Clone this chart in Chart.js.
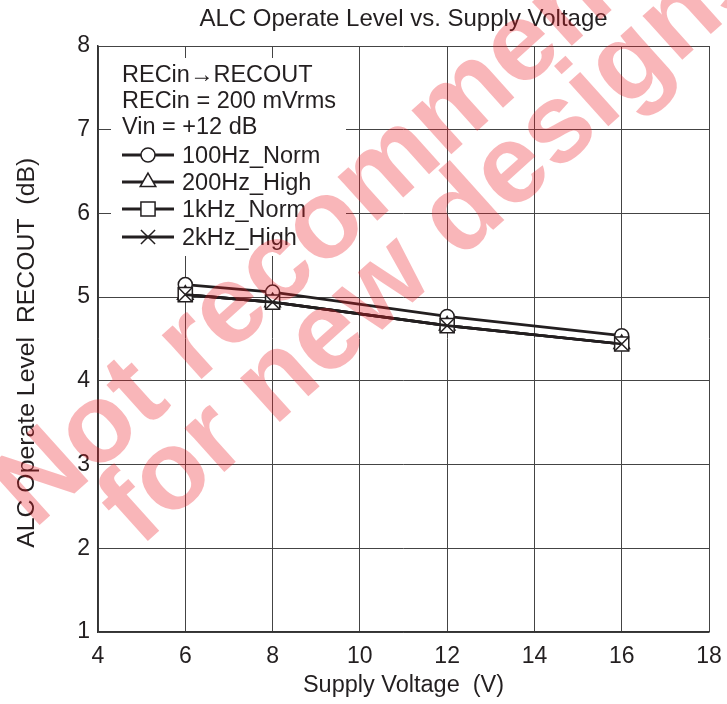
<!DOCTYPE html>
<html>
<head>
<meta charset="utf-8">
<script src="https://cdn.jsdelivr.net/npm/chart.js@4.4.1/dist/chart.umd.min.js"></script>
<style>
  body { margin: 0; background: #fff; }
  #wrap { width: 727px; height: 704px; }
</style>
</head>
<body>
<div id="wrap"><canvas id="chart" width="727" height="704"></canvas></div>
<script>
// --- data ---
const supplyVoltage = [6, 8, 12, 16];
const norm100Hz = [5.15, 5.06, 4.77, 4.54];
const high200Hz = [5.03, 4.94, 4.66, 4.44];
const norm1kHz = [5.03, 4.94, 4.66, 4.44];
const high2kHz = [5.03, 4.94, 4.66, 4.44];

const seriesNames = ['100Hz_Norm', '200Hz_High', '1kHz_Norm', '2kHz_High'];
const seriesMarkers = ['circle', 'triangle', 'rect', 'crossRot'];
const markerRadius = [7, 9, 10, 10];
const conditions = ['RECin\u2192RECOUT', 'RECin = 200 mVrms', 'Vin = +12 dB'];

const xTicks = [4, 6, 8, 10, 12, 14, 16, 18];
const yTicks = [1, 2, 3, 4, 5, 6, 7, 8];

const watermarkLines = ['Not recommended', 'for new designs'];

const ink = '#231f20';
const fontFamily = '"Liberation Sans", Arial, sans-serif';

function toPoints(values) {
    return values.map((v, i) => ({ x: supplyVoltage[i], y: v }));
}

const allSeries = [norm100Hz, high200Hz, norm1kHz, high2kHz];

const datasets = allSeries.map((values, i) => ({
    label: seriesNames[i],
    data: toPoints(values),
    order: allSeries.length - i, // circles underneath, crosses on top
    borderColor: ink,
    borderWidth: 2.6,
    pointStyle: seriesMarkers[i],
    pointRadius: markerRadius[i],
    pointBorderWidth: 1.5,
    pointBorderColor: ink,
    pointBackgroundColor: i === 3 ? 'rgba(0,0,0,0)' : '#fff',
    tension: 0,
    fill: false
}));

// white box with the conditions and a hand-drawn key (line + marker)
const keyBox = {
    id: 'keyBox',
    beforeDatasetsDraw(chart) {
        const ctx = chart.ctx;
        ctx.save();
        ctx.fillStyle = '#fff';
        ctx.fillRect(111, 58, 235, 198);
        ctx.fillStyle = ink;
        ctx.font = '23.5px ' + fontFamily;
        ctx.textBaseline = 'alphabetic';
        const baselines = [82, 108, 134, 163, 190, 217, 245];
        conditions.forEach((t, i) => ctx.fillText(t, 122, baselines[i]));
        seriesNames.forEach((name, i) => {
            const yb = baselines[i + 3];
            const ym = yb - 8;
            ctx.strokeStyle = ink;
            ctx.lineWidth = 2.8;
            ctx.beginPath();
            ctx.moveTo(122, ym);
            ctx.lineTo(174, ym);
            ctx.stroke();
            ctx.lineWidth = 1.5;
            ctx.fillStyle = '#fff';
            Chart.helpers.drawPoint(ctx, {
                pointStyle: seriesMarkers[i],
                radius: markerRadius[i],
                borderWidth: 1.5,
                rotation: 0
            }, 148, ym);
            ctx.fillStyle = ink;
            ctx.fillText(name, 182, yb);
        });
        ctx.restore();
    }
};

// pink "Not recommended for new designs" stamp on top
const stamp = {
    id: 'stamp',
    afterDraw(chart) {
        const ctx = chart.ctx;
        ctx.save();
        ctx.fillStyle = 'rgba(237, 28, 36, 0.32)';
        ctx.font = 'bold 112px ' + fontFamily;
        ctx.textBaseline = 'alphabetic';
        const starts = [[34, 530], [140, 548]];
        watermarkLines.forEach((t, i) => {
            ctx.save();
            ctx.translate(starts[i][0], starts[i][1]);
            ctx.rotate(-42 * Math.PI / 180);
            ctx.fillText(t, 0, 0);
            ctx.restore();
        });
        ctx.restore();
    }
};

new Chart(document.getElementById('chart'), {
    type: 'line',
    data: { datasets: datasets },
    plugins: [keyBox, stamp],
    options: {
        responsive: false,
        animation: false,
        devicePixelRatio: 1,
        layout: { padding: { left: 0, right: 18, top: 0, bottom: 0 } },
        plugins: {
            legend: { display: false },
            tooltip: { enabled: false },
            title: {
                display: true,
                fullSize: false,
                text: 'ALC Operate Level vs. Supply Voltage',
                color: ink,
                font: { family: fontFamily, size: 24, weight: 'normal' },
                padding: { top: 5, bottom: 12.2 }
            }
        },
        scales: {
            x: {
                type: 'linear',
                min: xTicks[0],
                max: xTicks[xTicks.length - 1],
                afterBuildTicks: s => { s.ticks = xTicks.map(v => ({ value: v })); },
                afterFit: s => { s.height = 72; s.paddingLeft = 0; s.paddingRight = 0; },
                grid: { color: '#444', lineWidth: 1, drawTicks: false },
                border: { color: '#333', width: 1.5 },
                ticks: {
                    color: ink,
                    padding: 11,
                    maxRotation: 0,
                    font: { family: fontFamily, size: 23 }
                },
                title: {
                    display: true,
                    text: 'Supply Voltage  (V)',
                    color: ink,
                    font: { family: fontFamily, size: 23.5 },
                    padding: { top: 0, bottom: 4 }
                }
            },
            y: {
                type: 'linear',
                min: yTicks[0],
                max: yTicks[yTicks.length - 1],
                afterBuildTicks: s => { s.ticks = yTicks.map(v => ({ value: v })); },
                afterFit: s => { s.width = 98; s.paddingTop = 0; s.paddingBottom = 0; },
                grid: { color: '#444', lineWidth: 1, drawTicks: false },
                border: { color: '#333', width: 1.5 },
                ticks: {
                    color: ink,
                    padding: 8,
                    font: { family: fontFamily, size: 23 }
                },
                title: {
                    display: true,
                    text: 'ALC Operate Level  RECOUT  (dB)    ',
                    color: ink,
                    font: { family: fontFamily, size: 24.8 },
                    padding: { top: 12, bottom: 0 }
                }
            }
        }
    }
});
</script>
</body>
</html>
